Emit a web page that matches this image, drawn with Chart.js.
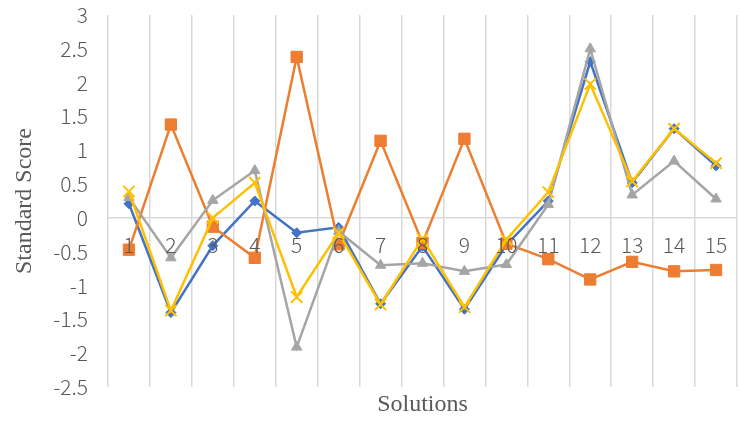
<!DOCTYPE html>
<html>
<head>
<meta charset="utf-8">
<script src="https://cdn.jsdelivr.net/npm/chart.js@4/dist/chart.umd.min.js"></script>
<style>
  html, body { margin: 0; padding: 0; background: #fff; overflow: hidden; }
  #wrap { position: relative; width: 747px; height: 422px; }
</style>
</head>
<body>
<div id="wrap"><canvas id="c"></canvas></div>
<script>
// Standard scores of four criteria across 15 solutions
const categories = ['1','2','3','4','5','6','7','8','9','10','11','12','13','14','15'];
const seriesBlue   = [0.21, -1.40, -0.41, 0.25, -0.22, -0.14, -1.27, -0.42, -1.35, -0.40, 0.25, 2.31, 0.52, 1.32, 0.77];
const seriesOrange = [-0.47, 1.38, -0.13, -0.59, 2.38, -0.39, 1.14, -0.37, 1.17, -0.38, -0.61, -0.91, -0.65, -0.79, -0.77];
const seriesGray   = [0.30, -0.59, 0.26, 0.70, -1.91, -0.20, -0.70, -0.67, -0.79, -0.69, 0.20, 2.50, 0.34, 0.84, 0.28];
const seriesYellow = [0.39, -1.37, 0.00, 0.52, -1.17, -0.22, -1.28, -0.31, -1.32, -0.32, 0.38, 1.98, 0.54, 1.32, 0.81];
const yTicks = [-2.5, -2, -1.5, -1, -0.5, 0, 0.5, 1, 1.5, 2, 2.5, 3];

const tickFont = { family: '"Noto Sans CJK SC", "Noto Sans", sans-serif', size: 21, weight: 300 };
const titleFont = { family: '"Liberation Serif", "Times New Roman", serif', size: 24 };
const textColor = '#595959';
const gridColor = '#d9d9d9';

// category labels sit just below the zero line
const zeroLineLabels = {
  id: 'zeroLineLabels',
  afterDatasetsDraw(chart) {
    const { ctx, scales: { x, y } } = chart;
    const y0 = y.getPixelForValue(0);
    ctx.save();
    ctx.font = `${tickFont.weight} ${tickFont.size}px ${tickFont.family}`;
    ctx.fillStyle = textColor;
    ctx.textAlign = 'center';
    ctx.textBaseline = 'middle';
    categories.forEach((lab, i) => {
      ctx.fillText(lab, x.getPixelForValue(i), y0 + 27);
    });
    ctx.restore();
  }
};

function series(data, color, style, radius, order) {
  return {
    data, order,
    borderColor: color,
    backgroundColor: color,
    pointBackgroundColor: color,
    pointBorderColor: color,
    borderWidth: 2.5,
    pointStyle: style,
    pointRadius: radius,
    pointBorderWidth: style === 'crossRot' ? 2 : 1,
    tension: 0
  };
}

new Chart(document.getElementById('c'), {
  type: 'line',
  data: {
    labels: categories,
    datasets: [
      series(seriesBlue, '#4472C4', 'rectRot', 5, 4),
      series(seriesOrange, '#ED7D31', 'rect', 8, 3),
      series(seriesGray, '#A5A5A5', 'triangle', 6, 2),
      series(seriesYellow, '#FFC000', 'crossRot', 8, 1)
    ]
  },
  options: {
    responsive: true,
    maintainAspectRatio: false,
    animation: false,
    layout: { padding: { top: 15, right: 0, left: 0, bottom: 0 } },
    plugins: { legend: { display: false }, tooltip: { enabled: false } },
    scales: {
      x: {
        type: 'category',
        offset: true,
        grid: { offset: true, color: gridColor, lineWidth: 1.5, drawTicks: false },
        border: { display: false },
        ticks: { display: false },
        title: { display: true, text: 'Solutions', color: textColor, font: titleFont, padding: { top: 0, bottom: 3 } },
        afterFit(scale) { scale.height = 35; scale.paddingLeft = 0; scale.paddingRight = 0; }
      },
      y: {
        min: -2.5, max: 3,
        afterBuildTicks(scale) { scale.ticks = yTicks.map(v => ({ value: v })); },
        grid: {
          color: c => (c.tick && c.tick.value === 0 ? gridColor : 'rgba(0,0,0,0)'),
          lineWidth: 1.5, drawTicks: false
        },
        border: { display: false },
        ticks: { color: textColor, font: tickFont, padding: 20, callback: v => String(v) },
        title: { display: true, text: 'Standard Score', color: textColor, font: titleFont, padding: { top: 10, bottom: 0 } },
        afterFit(scale) { scale.width = 108; scale.paddingTop = 0; scale.paddingBottom = 0; }
      }
    }
  },
  plugins: [zeroLineLabels]
});
</script>
</body>
</html>
